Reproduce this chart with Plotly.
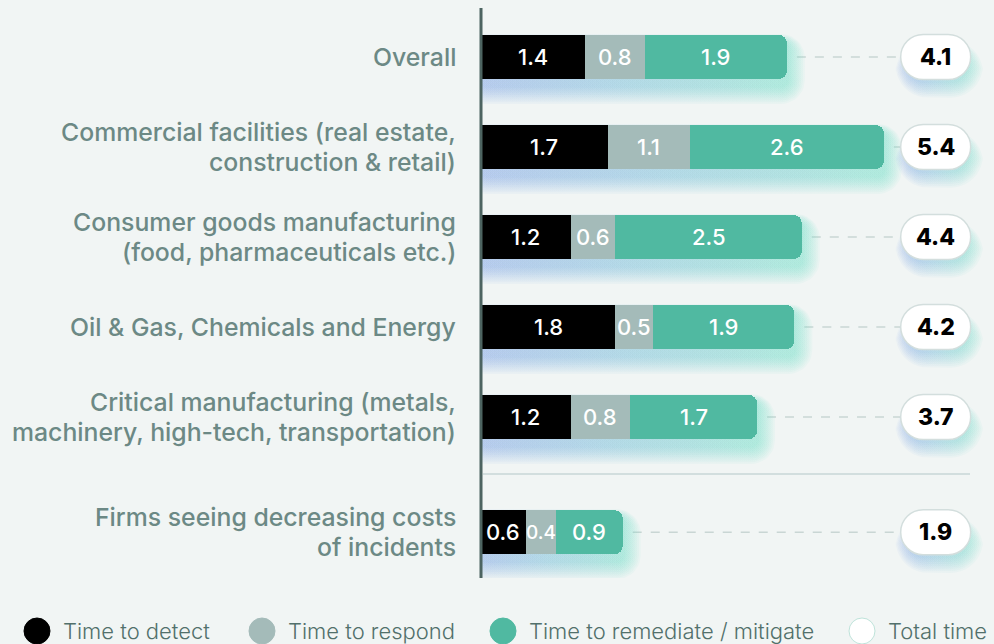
import math
import plotly.graph_objects as go

# ---------------- data ----------------
categories = [
    "Overall",
    "Commercial facilities (real estate,<br>construction & retail)",
    "Consumer goods manufacturing<br>(food, pharmaceuticals etc.)",
    "Oil & Gas, Chemicals and Energy",
    "Critical manufacturing (metals,<br>machinery, high-tech, transportation)",
    "Firms seeing decreasing costs<br>of incidents",
]
row_pos = [0, 1, 2, 3, 4, 5.28]
detect = [1.4, 1.7, 1.2, 1.8, 1.2, 0.6]
respond = [0.8, 1.1, 0.6, 0.5, 0.8, 0.4]
remediate = [1.9, 2.6, 2.5, 1.9, 1.7, 0.9]
total = [4.1, 5.4, 4.4, 4.2, 3.7, 1.9]
series_names = ["Time to detect", "Time to respond", "Time to remediate / mitigate", "Total time"]

# ---------------- style ----------------
BG = "#f1f5f4"
C_DETECT = "#000000"
C_RESPOND = "#a4bbb9"
C_REMED = "#50b9a1"
LABEL_C = "#6c8985"
LEG_C = "#52706b"
FONT = "Inter"
GLOW_BLUE = "rgb(105,145,228)"
GLOW_TEAL = "rgb(90,218,190)"

W, H = 994, 644
ML, MR, MT, MB = 481, 3, 8, 66
PW, PH = W - ML - MR, H - MT - MB
SX = 74.6   # px per x unit
SY = 90.0   # px per y unit
XMAX = PW / SX
Y_TOP = -49 / SY
Y_BOT = Y_TOP + PH / SY
BAR_W = 44 / SY
PILL_X = 6.095
SEP_Y = 4.633

fig = go.Figure()


def rounded_poly(x0, x1, y0, y1, r_px, n=10):
    """closed polygon of a rounded rectangle (data coords, radius in px)"""
    rx, ry = r_px / SX, r_px / SY
    xs, ys = [], []
    corners = [(x1 - rx, y0 + ry, -90), (x1 - rx, y1 - ry, 0),
               (x0 + rx, y1 - ry, 90), (x0 + rx, y0 + ry, 180)]
    for cx, cy, a0 in corners:
        for t in range(n + 1):
            a = math.radians(a0 + 90 * t / n)
            xs.append(cx + rx * math.cos(a))
            ys.append(cy + ry * math.sin(a))
    xs.append(xs[0])
    ys.append(ys[0])
    return xs, ys


def glow(x0, x1, yc, half_h, off=7, layers=10, step=1.8, op=0.055,
         left_k=1.1, right_k=1.0, up_k=0.45, base_r=6, c0=GLOW_BLUE, c1=GLOW_TEAL):
    for k in range(1, layers + 1):
        e = step * k
        gx0 = x0 - e * left_k / SX
        gx1 = x1 + e * right_k / SX
        gy0 = yc - half_h + (off - e * up_k) / SY
        gy1 = yc + half_h + (off + e) / SY
        xs, ys = rounded_poly(gx0, gx1, gy0, gy1, base_r + e)
        fig.add_trace(go.Scatter(
            x=xs, y=ys, mode="lines", line=dict(width=0), fill="toself",
            fillgradient=dict(type="horizontal", colorscale=[[0, c0], [1, c1]]),
            opacity=op, hoverinfo="skip", showlegend=False, xaxis="x", yaxis="y"))


pw, ph = 70, 45

# glows (base axes, drawn underneath)
for i, y in enumerate(row_pos):
    bar_end = detect[i] + respond[i] + remediate[i]
    glow(0, bar_end, y, BAR_W / 2)
    glow(PILL_X - (pw / 2 - 8) / SX, PILL_X + (pw / 2 - 4) / SX, y, (ph / 2 - 6) / SY,
         off=8, layers=9, step=1.8, op=0.055, left_k=0.8, right_k=1.0, up_k=0.5, base_r=16)

# bars on the overlaying axes so they sit above the glow
for vals, col, name in [(detect, C_DETECT, series_names[0]),
                        (respond, C_RESPOND, series_names[1]),
                        (remediate, C_REMED, series_names[2])]:
    fig.add_trace(go.Bar(
        y=row_pos, x=vals, orientation="h", name=name,
        marker=dict(color=col, line=dict(width=0)),
        width=BAR_W, xaxis="x2", yaxis="y2", textposition="none",
        hoverinfo="x+name", showlegend=False,
    ))

shapes = []
annotations = []
KK = 0.5523

# segment value labels (centred on each stacked segment)
for i, y in enumerate(row_pos):
    start = 0.0
    for vals in (detect, respond, remediate):
        v = vals[i]
        seg_px = v * SX
        size = 22 if seg_px > 34 else 19
        annotations.append(dict(x=start + v / 2, y=y, xref="x2", yref="y2", text=f"{v:.1f}",
                                showarrow=False,
                                font=dict(size=size, color="white", family=FONT, weight=500)))
        start += v


def stadium(w, h):
    r = h / 2
    a = w / 2 - r
    return (f"M {-a},{-r} L {a},{-r} "
            f"C {a + KK * r},{-r} {w / 2},{-KK * r} {w / 2},0 "
            f"C {w / 2},{KK * r} {a + KK * r},{r} {a},{r} "
            f"L {-a},{r} "
            f"C {-a - KK * r},{r} {-w / 2},{KK * r} {-w / 2},0 "
            f"C {-w / 2},{-KK * r} {-a - KK * r},{-r} {-a},{-r} Z")


for i, y in enumerate(row_pos):
    bar_end = detect[i] + respond[i] + remediate[i]
    # dashed connector
    shapes.append(dict(type="line", xref="x", yref="y",
                       x0=bar_end + 10 / SX, x1=PILL_X - pw / 2 / SX, y0=y, y1=y,
                       line=dict(color="#c9d6d4", width=1.5, dash="dash"), layer="below"))
    # pill
    shapes.append(dict(type="path", xref="x", yref="y", xsizemode="pixel", ysizemode="pixel",
                       xanchor=PILL_X, yanchor=y, path=stadium(pw, ph),
                       fillcolor="white", line=dict(color="#d3dedd", width=1.5), layer="above"))
    annotations.append(dict(x=PILL_X, y=y, xref="x", yref="y", text=f"{total[i]:.1f}",
                            showarrow=False,
                            font=dict(size=23, color="#000000", family=FONT, weight=800)))
    # category label (one annotation per line for exact line spacing)
    lines = categories[i].split("<br>")
    n = len(lines)
    for j, ln in enumerate(lines):
        annotations.append(dict(x=0, y=y, xref="paper", yref="y", xanchor="right",
                                yanchor="middle", xshift=-23,
                                yshift=-(j - (n - 1) / 2) * 30,
                                text=ln, align="right", showarrow=False,
                                font=dict(size=24.8, color=LABEL_C, family=FONT, weight=500)))

# vertical axis line
shapes.append(dict(type="line", xref="paper", yref="paper", x0=0, x1=0, y0=0, y1=1,
                   line=dict(color="#4d6461", width=3), layer="above"))
# separator
shapes.append(dict(type="line", xref="x", yref="y", x0=2 / SX, x1=(970 - ML) / SX,
                   y0=SEP_Y, y1=SEP_Y, line=dict(color="#d2dede", width=2), layer="below"))

# custom legend
leg_x = [37, 262, 503, 862]
leg_cols = [C_DETECT, C_RESPOND, C_REMED, "white"]
leg_y_px = 631
for lx, lc, ln in zip(leg_x, leg_cols, series_names):
    xp = (lx - ML) / PW
    yp = (H - MB - leg_y_px) / PH
    shapes.append(dict(type="circle", xref="paper", yref="paper", xsizemode="pixel",
                       ysizemode="pixel", xanchor=xp, yanchor=yp, x0=-13, x1=13, y0=-13, y1=13,
                       fillcolor=lc, line=dict(color="#bfe3da" if lc == "white" else lc, width=1)))
    annotations.append(dict(x=xp, y=yp, xref="paper", yref="paper", xanchor="left",
                            yanchor="middle", xshift=24, text=ln, showarrow=False,
                            font=dict(size=22, color=LEG_C, family=FONT, weight=300)))

fig.update_layout(
    width=W, height=H, barmode="stack", barcornerradius=8,
    paper_bgcolor=BG, plot_bgcolor=BG,
    margin=dict(l=ML, r=MR, t=MT, b=MB),
    xaxis=dict(range=[0, XMAX], visible=False, fixedrange=True),
    yaxis=dict(range=[Y_BOT, Y_TOP], visible=False, fixedrange=True),
    xaxis2=dict(range=[0, XMAX], visible=False, fixedrange=True, overlaying="x"),
    yaxis2=dict(range=[Y_BOT, Y_TOP], visible=False, fixedrange=True, overlaying="y"),
    shapes=shapes, annotations=annotations, showlegend=False,
    font=dict(family=FONT),
)

fig.write_html("out.html", config={"displayModeBar": False},
               post_script="document.body.style.margin='0px';document.body.style.overflow='hidden';")
